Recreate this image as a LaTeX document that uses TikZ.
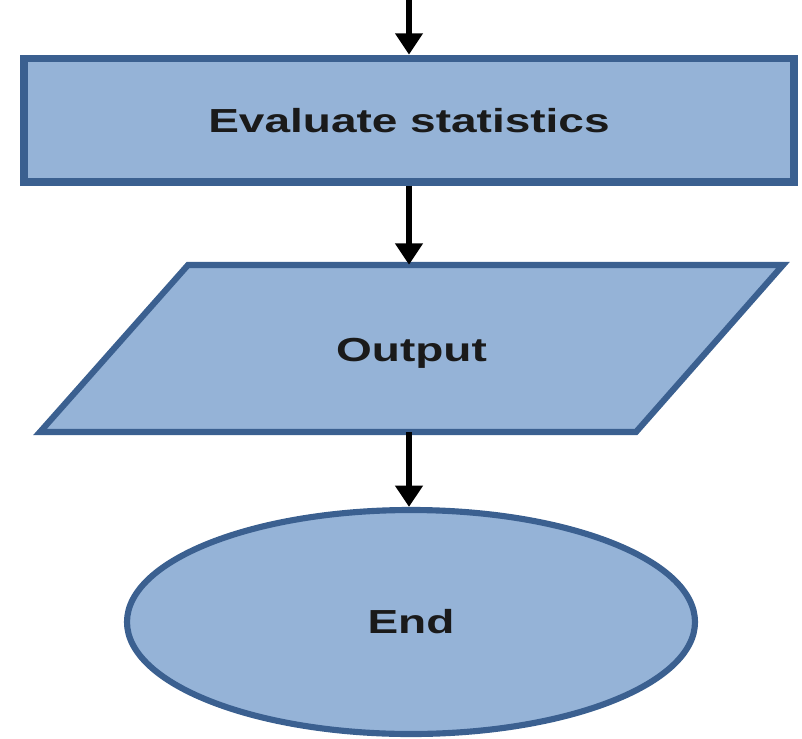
\documentclass[tikz,border=0pt]{standalone}
\usepackage{fontspec}
\setmainfont{Liberation Sans}
\usetikzlibrary{arrows.meta,shapes.geometric}
\definecolor{boxfill}{HTML}{95B3D7}
\definecolor{boxline}{HTML}{3B6090}
\definecolor{labeltext}{HTML}{1A1A1A}
\newcommand{\widelabel}[1]{\scalebox{1.38}[1]{\bfseries #1}}
\tikzset{
  flowbox/.style={draw=boxline, fill=boxfill, text=labeltext, inner sep=0pt,
    font=\fontsize{25}{30}\selectfont},
  procbox/.style={flowbox, rectangle, line width=5.8pt,
    minimum width=577.5pt, minimum height=92.6pt},
  endbox/.style={flowbox, ellipse, line width=4.6pt,
    minimum width=426pt, minimum height=168pt},
  iobody/.style={draw=boxline, fill=boxfill, line width=4.6pt, line join=miter},
  iolabel/.style={rectangle, inner sep=0pt, text=labeltext,
    text height=20pt, text depth=0pt,
    minimum width=400pt, minimum height=125.25pt,
    font=\fontsize{25}{30}\selectfont},
  flowarrow/.style={line width=4pt, black,
    -{Triangle[width=20pt,length=16pt]}},
}
\begin{document}
\begin{tikzpicture}[x=0.75pt,y=-0.75pt]
  \useasboundingbox (0,0) rectangle (802,738);

  % process step
  \node[procbox] (eval) at (409,120.25) {\widelabel{Evaluate statistics}};

  % input/output parallelogram
  \path[iobody] (188,265) -- (783,265) -- (636,432) -- (40,432) -- cycle;
  \node[iolabel] (out) at (411.5,348.5) {\widelabel{Output}};

  % terminator
  \node[endbox] (end) at (411,622) {\widelabel{End}};

  % incoming flow from above
  \coordinate (in) at (409,-4);

  \draw[flowarrow] (in) -- (eval.north);
  \draw[flowarrow] (eval.south) -- (eval.south |- out.north);
  \draw[flowarrow] (eval.south |- out.south) -- (eval.south |- end.north);
\end{tikzpicture}
\end{document}
